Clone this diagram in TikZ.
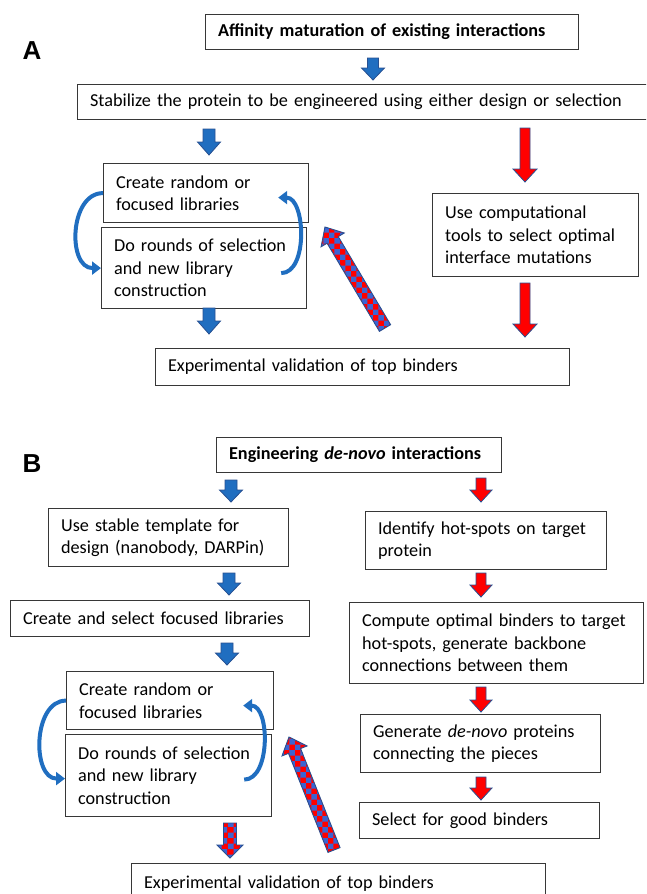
\documentclass[tikz,border=0pt]{standalone}
\usepackage{fontspec}
\setmainfont{Carlito}
\newfontfamily\labelfont{Liberation Sans}
\usetikzlibrary{calc,patterns,arrows.meta}
\definecolor{ablue}{RGB}{32,110,192}
\definecolor{aline}{RGB}{40,80,145}
\definecolor{ared}{RGB}{255,0,0}
\definecolor{boxline}{RGB}{55,55,55}
\definecolor{hblue}{RGB}{60,100,210}
\newcommand{\blockarr}[6]{%
  \coordinate (baq) at ($(#3)!#6!(#2)$);
  \draw[#1] ($(#2)!#4!90:(#3)$) -- ($(baq)!#4!90:(#3)$) -- ($(baq)!#5!90:(#3)$) -- (#3)
    -- ($(baq)!#5!-90:(#3)$) -- ($(baq)!#4!-90:(#3)$) -- ($(#2)!#4!-90:(#3)$) -- cycle;}
\tikzset{
  box/.style={draw=boxline, line width=1.2pt, rectangle, inner xsep=12.5pt, inner ysep=0pt,
    align=left, anchor=north west, font=\fontsize{18.2}{22.6}\selectfont},
  bluearr/.style={fill=ablue, draw=aline, line width=0.8pt},
  redarr/.style={fill=ared, draw=aline, line width=0.8pt},
  hatcharr/.style={draw=aline, line width=0.9pt, preaction={fill=ared}, pattern=checkerboard, pattern color=hblue},
  curvarr/.style={draw=ablue, line width=4pt, -{Triangle[width=13pt,length=9pt]}},
  panel/.style={font=\labelfont\bfseries\fontsize{26}{30}\selectfont, inner sep=0pt}
}
\begin{document}
\begin{tikzpicture}[x=1pt,y=-1pt]
\useasboundingbox (0,0) rectangle (646,894);
\clip (0,0) rectangle (646,894);
% ---------- Panel A ----------
\node[panel] (labA) at (32,51) {A};
\node[box, text width=348pt, minimum height=35pt] (titleA) at (205,14) {\bfseries\mbox{Affinity maturation of existing interactions}};
\node[box, text width=548pt, minimum height=35pt] (stab) at (77,84) {\mbox{Stabilize the protein to be engineered using either design or selection}};
\node[box, text width=180pt, minimum height=59pt] (createA) at (103,163) {\mbox{Create random or}\\\mbox{focused libraries}};
\node[box, text width=180pt, minimum height=81pt] (doA) at (101,227) {\mbox{Do rounds of selection}\\\mbox{and new library}\\\mbox{construction}};
\node[box, text width=181pt, minimum height=83pt] (compA) at (432,193) {\mbox{Use computational}\\\mbox{tools to select optimal}\\\mbox{interface mutations}};
\node[box, text width=389pt, minimum height=37pt] (expA) at (155,348) {\mbox{Experimental validation of top binders}};
\blockarr{bluearr}{373,58}{373,80}{5.5pt}{11.5pt}{12pt}
\blockarr{bluearr}{209,129}{209,155}{6pt}{11.5pt}{13pt}
\blockarr{redarr}{525,128}{525,182}{5pt}{12pt}{13pt}
\blockarr{bluearr}{209,308}{209,334}{6pt}{11.5pt}{13pt}
\blockarr{redarr}{525,283}{525,337}{5pt}{12pt}{13pt}
\blockarr{hatcharr}{385,328}{325,227}{6.5pt}{13.5pt}{15pt}
\draw[curvarr] (createA.west) to[out=180,in=180,looseness=1.15] (doA.west);
\coordinate (rA1) at ($(doA.east)+(-26,5)$);
\coordinate (rA2) at ($(createA.east)+(-31,4.5)$);
\draw[curvarr] (rA1) to[out=0,in=0,looseness=0.92] (rA2);
% ---------- Panel B ----------
\node[panel] (labB) at (32,463.5) {B};
\node[box, text width=260pt, minimum height=35pt] (titleB) at (216,437) {\bfseries\mbox{Engineering \textit{de-novo} interactions}};
\node[box, text width=215pt, minimum height=58pt] (stableB) at (48,508) {\mbox{Use stable template for}\\\mbox{design (nanobody, DARPin)}};
\node[box, text width=216pt, minimum height=58pt] (hotB) at (365,511) {\mbox{Identify hot-spots on target}\\\mbox{protein}};
\node[box, text width=274pt, minimum height=36pt] (libB) at (10,600) {\mbox{Create and select focused libraries}};
\node[box, text width=269pt, minimum height=81pt] (compB) at (349,602) {\mbox{Compute optimal binders to target}\\\mbox{hot-spots, generate backbone}\\\mbox{connections between them}};
\node[box, text width=182pt, minimum height=58pt] (createB) at (66,671) {\mbox{Create random or}\\\mbox{focused libraries}};
\node[box, text width=181pt, minimum height=82pt] (doB) at (65,734) {\mbox{Do rounds of selection}\\\mbox{and new library}\\\mbox{construction}};
\node[box, text width=215pt, minimum height=58pt] (genB) at (360,714) {\mbox{Generate \textit{de-novo} proteins}\\\mbox{connecting the pieces}};
\node[box, text width=215pt, minimum height=36pt] (selB) at (359,802) {\mbox{Select for good binders}};
\node[box, text width=389pt, minimum height=40pt] (expB) at (131,863) {\mbox{Experimental validation of top binders}};
\blockarr{bluearr}{231,480}{231,502}{6pt}{11.5pt}{12pt}
\blockarr{redarr}{481,478}{481,502}{5pt}{11pt}{12pt}
\blockarr{bluearr}{229,573}{229,595}{6pt}{11.5pt}{12pt}
\blockarr{redarr}{481,573}{481,597}{5pt}{11pt}{12pt}
\blockarr{bluearr}{227,643}{227,665}{6pt}{11.5pt}{12pt}
\blockarr{redarr}{481,687}{481,712}{5pt}{11pt}{12pt}
\blockarr{redarr}{481,777}{481,800}{5pt}{11pt}{12pt}
\blockarr{hatcharr}{230,823}{230,858}{6.5pt}{13pt}{13pt}
\blockarr{hatcharr}{334,850}{289,737}{6.5pt}{13.5pt}{15pt}
\draw[curvarr] (createB.west) to[out=180,in=180,looseness=1.09] ($(doB.west)+(0,3)$);
\coordinate (rB1) at ($(doB.east)+(-28,4)$);
\coordinate (rB2) at ($(createB.east)+(-31,5)$);
\draw[curvarr] (rB1) to[out=0,in=0,looseness=0.92] (rB2);
\end{tikzpicture}
\end{document}
